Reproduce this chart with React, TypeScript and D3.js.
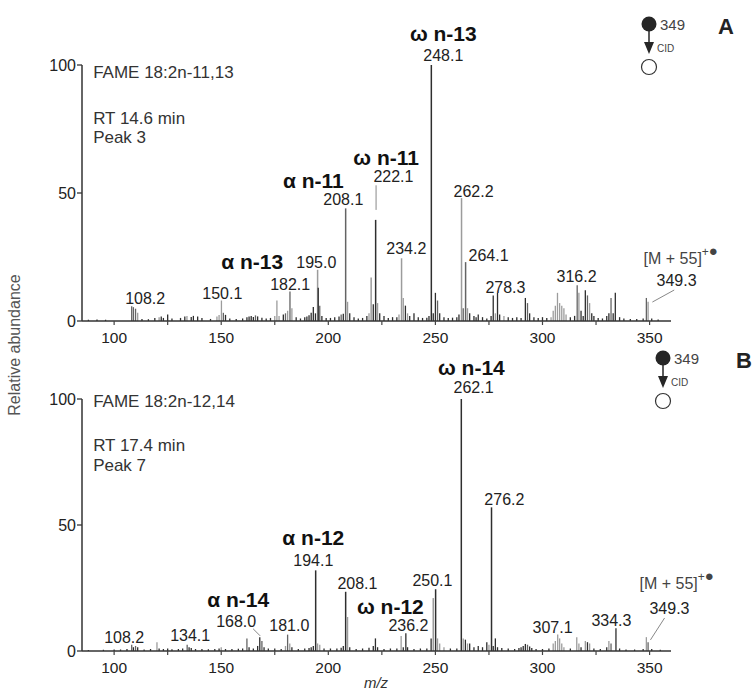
import React from 'react';
import * as d3 from 'd3';

// peaks: [m/z, relative abundance %, shade]  d = dark, m = mid grey, l = light grey
type Peak = [number, number, string];

const peaksA: Peak[] = [
  [88, 0.5, 'd'], [92, 0.6, 'd'], [96, 0.5, 'd'], [108.2, 5.8, 'm'], [109, 5.4, 'm'], [110, 4.8, 'm'], [111, 3.2, 'l'],
  [113, 0.8, 'd'], [116, 0.7, 'd'], [119, 1.2, 'd'], [121, 1.5, 'l'], [122, 1.8, 'd'], [123, 1.2, 'd'], [125, 2.5, 'd'],
  [127, 1, 'd'], [131, 1.2, 'd'], [133, 1.8, 'd'], [134, 2, 'l'], [136, 1.6, 'd'], [137, 2, 'd'], [139, 1.8, 'd'],
  [141, 1.2, 'd'], [145, 0.8, 'd'], [148, 1.8, 'l'], [149, 2.3, 'l'], [150.1, 8, 'l'], [151, 3.2, 'm'], [152, 2.4, 'd'],
  [154, 1, 'd'], [157, 0.8, 'd'], [160, 1, 'd'], [162, 1.5, 'd'], [163, 1.8, 'd'], [164, 2, 'd'], [165, 1.6, 'd'],
  [166, 2.2, 'm'], [167, 1.8, 'd'], [169, 1.3, 'd'], [171, 1, 'd'], [173, 1.2, 'd'], [175, 2, 'l'], [176, 8, 'l'],
  [177, 2, 'l'], [179, 2.5, 'd'], [180, 3, 'm'], [181, 4, 'l'], [182.1, 11.5, 'm'], [183, 5, 'l'], [185, 1.5, 'd'],
  [187, 1, 'd'], [189, 1.5, 'd'], [190, 1.8, 'd'], [191, 2.2, 'd'], [192, 3.2, 'd'], [193, 5.5, 'd'], [194, 3, 'd'],
  [195, 20, 'l'], [195.3, 13, 'd'], [196, 6, 'm'], [197, 2, 'd'], [199, 1.2, 'd'], [201, 1.2, 'd'], [203, 1.5, 'd'],
  [205, 1.8, 'd'], [206, 2.5, 'm'], [207, 2.8, 'd'], [208.1, 44, 'm'], [209, 7.5, 'l'], [210, 3, 'd'], [212, 1.5, 'd'],
  [214, 1, 'd'], [216, 1.2, 'd'], [218, 2, 'd'], [219, 3, 'l'], [220, 17, 'l'], [221, 6.5, 'd'], [222.1, 39.5, 'd'],
  [223, 7, 'l'], [224, 3, 'd'], [226, 2, 'd'], [228, 1.2, 'd'], [230, 1.5, 'd'], [232, 1.5, 'd'], [233, 2.5, 'l'],
  [234.2, 24.5, 'l'], [235, 9, 'l'], [236, 6, 'd'], [237, 3, 'l'], [238, 2, 'd'], [240, 3, 'd'], [242, 1.5, 'd'],
  [244, 1.2, 'd'], [246, 1.3, 'd'], [247, 2, 'd'], [248.1, 100, 'd'], [249, 3, 'd'], [250, 11, 'd'], [251, 8, 'm'],
  [252, 3, 'd'], [254, 1.5, 'd'], [256, 1.2, 'd'], [258, 1.3, 'd'], [260, 1.5, 'd'], [261, 2.5, 'd'], [262.2, 48, 'l'],
  [263, 5, 'm'], [264.1, 23, 'm'], [265, 5, 'l'], [266, 3, 'd'], [268, 2, 'd'], [269, 1.5, 'd'], [270, 2.5, 'd'],
  [272, 1.5, 'd'], [274, 1, 'd'], [276, 2, 'd'], [277, 10, 'd'], [278, 3, 'l'], [279, 11, 'd'], [280, 2.5, 'd'],
  [282, 2, 'l'], [284, 1.5, 'd'], [286, 1.2, 'd'], [288, 1.5, 'd'], [290, 1.2, 'd'], [292, 9, 'd'], [293, 7, 'm'],
  [294, 3, 'd'], [296, 1.5, 'd'], [298, 1.2, 'd'], [300, 1.5, 'd'], [302, 1.2, 'd'], [304, 1.5, 'l'], [305, 4, 'l'],
  [306, 6, 'l'], [307, 11, 'l'], [308, 7, 'l'], [309, 6, 'l'], [310, 5, 'l'], [311, 2.5, 'l'], [313, 1.5, 'd'],
  [315, 2, 'd'], [316.2, 14, 'm'], [317, 11, 'l'], [318, 4, 'd'], [319, 2, 'd'], [320, 12, 'd'], [321, 10, 'm'],
  [322, 7, 'l'], [323, 3, 'd'], [324, 2, 'd'], [326, 1.2, 'd'], [328, 1, 'd'], [330, 2, 'd'], [331, 3, 'd'],
  [332, 9, 'm'], [333, 3, 'd'], [334, 11, 'd'], [336, 1.5, 'd'], [338, 1, 'd'], [341, 0.8, 'd'], [344, 0.8, 'd'],
  [347, 1, 'd'], [348.5, 9, 'm'], [349.3, 7.5, 'l'], [351, 1, 'd'], [354, 0.6, 'd'],
];

const peaksB: Peak[] = [
  [88, 0.4, 'd'], [95, 0.5, 'd'], [100, 0.6, 'd'], [103, 0.6, 'd'], [106, 0.8, 'd'], [108.2, 2.5, 'm'], [109, 1.5, 'd'],
  [110, 2, 'm'], [111, 1.5, 'd'], [114, 0.6, 'd'], [117, 0.8, 'd'], [120, 3.5, 'l'], [121, 1, 'd'], [123, 0.8, 'd'],
  [125, 1, 'd'], [127, 0.7, 'd'], [130, 0.8, 'd'], [132, 1, 'd'], [134.1, 2.5, 'm'], [135, 1.5, 'd'], [136, 1.2, 'd'],
  [138, 0.8, 'd'], [141, 0.8, 'd'], [144, 0.7, 'd'], [147, 0.8, 'd'], [149, 1, 'd'], [150, 1.5, 'l'], [152, 0.8, 'd'],
  [155, 0.8, 'd'], [158, 0.9, 'd'], [160, 1, 'd'], [162, 5, 'm'], [163, 1.5, 'd'], [165, 1, 'd'], [167, 2, 'd'],
  [168, 5.5, 'd'], [169, 4, 'm'], [170, 1.5, 'd'], [172, 1, 'd'], [175, 1, 'd'], [178, 0.8, 'd'], [180, 2, 'l'],
  [181, 6.5, 'm'], [182, 3, 'l'], [183, 1.5, 'd'], [186, 0.8, 'd'], [189, 1, 'd'], [191, 1.2, 'd'], [192, 1.5, 'd'],
  [193, 2, 'd'], [194.1, 32, 'd'], [195, 3, 'l'], [196, 2.5, 'l'], [198, 1, 'd'], [201, 1, 'd'], [204, 1, 'd'],
  [206, 1.3, 'd'], [207, 2, 'd'], [208.1, 23.5, 'd'], [209, 13.5, 'l'], [210, 1.5, 'd'], [213, 0.8, 'd'], [216, 1, 'd'],
  [219, 1.3, 'd'], [221, 2, 'd'], [222, 5, 'd'], [223, 1.5, 'd'], [226, 0.8, 'd'], [229, 1, 'd'], [232, 1, 'd'],
  [234, 6, 'l'], [235, 1.5, 'd'], [236.2, 7, 'd'], [237, 1.5, 'd'], [240, 0.8, 'd'], [243, 1, 'd'], [246, 1, 'd'],
  [248, 5, 'd'], [249, 21, 'l'], [250.1, 24.5, 'd'], [251, 5, 'l'], [252, 3, 'l'], [254, 1.5, 'l'], [257, 1, 'd'],
  [260, 1, 'd'], [262.1, 100, 'd'], [263, 5, 'l'], [264, 4.5, 'd'], [265, 3, 'l'], [266, 3, 'd'], [268, 1.5, 'd'],
  [270, 2, 'd'], [272, 1.5, 'd'], [274, 3.5, 'd'], [275, 2.5, 'l'], [276.2, 57, 'd'], [277, 2, 'd'], [278, 5, 'd'],
  [279, 1.5, 'd'], [281, 1.2, 'd'], [284, 1, 'd'], [287, 0.8, 'd'], [289, 1.2, 'd'], [290, 1.5, 'd'], [291, 2, 'd'],
  [292, 2.8, 'd'], [293, 2.5, 'm'], [294, 1.8, 'd'], [295, 1.2, 'd'], [297, 0.8, 'd'], [300, 0.8, 'd'], [303, 1, 'd'],
  [305, 3, 'l'], [306, 4, 'l'], [307.1, 6.5, 'l'], [308, 5, 'l'], [309, 3, 'l'], [310, 1.5, 'l'], [313, 1, 'd'],
  [316, 5.5, 'l'], [317, 3, 'l'], [318, 1.5, 'd'], [320, 4, 'l'], [321, 3.5, 'd'], [322, 3, 'l'], [324, 1, 'd'],
  [327, 0.8, 'd'], [330, 1.5, 'd'], [331, 4, 'l'], [332, 3, 'm'], [334.3, 9, 'd'], [336, 1, 'd'], [339, 0.6, 'd'],
  [343, 0.6, 'd'], [347, 0.8, 'd'], [348.5, 5.5, 'l'], [349.3, 3.5, 'm'], [351, 0.8, 'd'], [355, 0.5, 'd'],
];

// peak labels: text, m/z of label centre, abundance level of baseline, bold
type Label = { t: string; mz: number; lv: number; b?: boolean };

const labelsA: Label[] = [
  { t: 'ω n-13', mz: 253.7, lv: 109.4, b: true },
  { t: '248.1', mz: 253.7, lv: 101.4 },
  { t: 'ω n-11', mz: 227, lv: 61, b: true },
  { t: '222.1', mz: 230.4, lv: 54.3 },
  { t: 'α n-11', mz: 193, lv: 52, b: true },
  { t: '208.1', mz: 207, lv: 45.3 },
  { t: '262.2', mz: 267.8, lv: 48.5 },
  { t: '234.2', mz: 236.4, lv: 26.2 },
  { t: '264.1', mz: 274.8, lv: 23.4 },
  { t: '278.3', mz: 282.7, lv: 10.9 },
  { t: '316.2', mz: 315.9, lv: 15.2 },
  { t: '195.0', mz: 194.4, lv: 20.7 },
  { t: 'α n-13', mz: 164.5, lv: 20.3, b: true },
  { t: '182.1', mz: 182.2, lv: 12.1 },
  { t: '150.1', mz: 150.5, lv: 8.6 },
  { t: '108.2', mz: 114.5, lv: 6.6 },
  { t: '349.3', mz: 362.6, lv: 13.7 },
];

const labelsB: Label[] = [
  { t: 'ω n-14', mz: 266.8, lv: 109.5, b: true },
  { t: '262.1', mz: 267.8, lv: 102.4 },
  { t: '276.2', mz: 282.2, lv: 57.9 },
  { t: '250.1', mz: 248.6, lv: 25.8 },
  { t: 'ω n-12', mz: 229, lv: 14.7, b: true },
  { t: '236.2', mz: 237.4, lv: 7.9 },
  { t: '208.1', mz: 213.6, lv: 24.6 },
  { t: 'α n-12', mz: 193, lv: 42, b: true },
  { t: '194.1', mz: 193, lv: 33.7 },
  { t: '181.0', mz: 181.8, lv: 7.9 },
  { t: 'α n-14', mz: 157.9, lv: 17.4, b: true },
  { t: '168.0', mz: 157, lv: 9.6 },
  { t: '134.1', mz: 135.5, lv: 4 },
  { t: '108.2', mz: 104.7, lv: 3.2 },
  { t: '307.1', mz: 304.7, lv: 7.1 },
  { t: '334.3', mz: 332.2, lv: 9.9 },
  { t: '349.3', mz: 359.3, lv: 14.7 },
];

// leader lines: [mz1, lv1, mz2, lv2]
const leadersA = [[222.3, 53, 222.3, 43.4], [361.5, 12.1, 351.3, 7.4]];
const leadersB = [[164.9, 8.8, 168.2, 6], [357, 13.1, 350.4, 4.4]];

const infoA = ['FAME 18:2n-11,13', 'RT 14.6 min', 'Peak 3'];
const infoB = ['FAME 18:2n-12,14', 'RT 17.4 min', 'Peak 7'];

const xDomain = [85, 360];
const xTicks = [100, 125, 150, 175, 200, 225, 250, 275, 300, 325, 350];
const xTickLabels = [100, 150, 200, 250, 300, 350];
const yTicks = [0, 50, 100];

const FONT = "Arial, 'Liberation Sans', Helvetica, sans-serif";
const shade: Record<string, string> = { d: '#2e2e2e', m: '#646464', l: '#9c9c9c' };

const x = d3.scaleLinear().domain(xDomain).range([82, 671]);

type PanelProps = {
  peaks: Peak[];
  labels: Label[];
  leaders: number[][];
  info: string[];
  ionLv: number;
  ionMz: number;
  y0: number;
  y100: number;
  letter: string;
  letterX: number;
  iconX: number;
  infoLv: number[];
};

const Panel = ({ peaks, labels, leaders, info, ionLv, ionMz, y0, y100, letter, letterX, iconX, infoLv }: PanelProps) => {
  const y = d3.scaleLinear().domain([0, 100]).range([y0, y100]);
  const iconY = y100 - 41;
  return (
    <g fontFamily={FONT}>
      {/* peaks */}
      {peaks.map((p, i) => (
        <line key={i} x1={x(p[0])} x2={x(p[0])} y1={y(0)} y2={y(p[1])} stroke={shade[p[2]]} strokeWidth={p[1] > 15 ? 1.5 : 1.3} />
      ))}

      {/* y axis */}
      <line x1={x(xDomain[0])} x2={x(xDomain[0])} y1={y(0)} y2={y(100)} stroke="#333" strokeWidth={1.5} />
      {yTicks.map(t => (
        <g key={t}>
          <line x1={x(xDomain[0]) - 5} x2={x(xDomain[0])} y1={y(t)} y2={y(t)} stroke="#333" strokeWidth={1.3} />
          <text x={x(xDomain[0]) - 6} y={y(t) + 6} textAnchor="end" fontSize={16} fill="#222">{t}</text>
        </g>
      ))}

      {/* x axis */}
      <line x1={x(xDomain[0])} x2={x(xDomain[1])} y1={y(0)} y2={y(0)} stroke="#333" strokeWidth={1.5} />
      {xTicks.map(t => (
        <line key={t} x1={x(t)} x2={x(t)} y1={y(0)} y2={y(0) + 4} stroke="#444" strokeWidth={1.2} />
      ))}
      {xTickLabels.map(t => (
        <text key={t} x={x(t)} y={y(0) + 22} textAnchor="middle" fontSize={15.5} fill="#222">{t}</text>
      ))}

      {/* info text */}
      {info.map((s, i) => (
        <text key={s} x={x(90.2)} y={y(infoLv[i])} fontSize={17} fill="#333">{s}</text>
      ))}

      {/* leaders */}
      {leaders.map((l, i) => (
        <line key={i} x1={x(l[0])} y1={y(l[1])} x2={x(l[2])} y2={y(l[3])} stroke="#888" strokeWidth={1} />
      ))}

      {/* peak labels */}
      {labels.map((l, i) => (
        <text key={i} x={x(l.mz)} y={y(l.lv)} textAnchor="middle" fontSize={l.b ? 21 : 16}
          fontWeight={l.b ? 'bold' : 'normal'} fill={l.b ? '#111' : '#222'}>{l.t}</text>
      ))}

      {/* molecular ion label */}
      <text x={x(ionMz)} y={y(ionLv)} fontSize={16} fill="#444">
        [M + 55]<tspan dy={-8} fontSize={12}>+</tspan><tspan fontSize={15}>●</tspan>
      </text>

      {/* CID icon */}
      <circle cx={iconX} cy={iconY} r={7.5} fill="#262626" />
      <line x1={iconX} x2={iconX} y1={iconY + 7} y2={iconY + 22} stroke="#262626" strokeWidth={1.5} />
      <path d={`M${iconX - 5},${iconY + 18} L${iconX + 5},${iconY + 18} L${iconX},${iconY + 30} Z`} fill="#262626" />
      <circle cx={iconX} cy={iconY + 43} r={7.5} fill="#fff" stroke="#333" strokeWidth={1.2} />
      <text x={iconX + 11} y={iconY + 6} fontSize={15} fill="#444">349</text>
      <text x={iconX + 8} y={iconY + 28} fontSize={10} fill="#444">CID</text>

      <text x={letterX} y={iconY + 10} textAnchor="middle" fontSize={22} fontWeight="bold" fill="#222">{letter}</text>
    </g>
  );
};

export default function App() {
  return (
    <svg width={752} height={690} style={{ position: 'absolute', left: 0, top: 0, background: '#fff' }}>
      <Panel peaks={peaksA} labels={labelsA} leaders={leadersA} info={infoA} ionMz={347.2} ionLv={22.3}
        y0={321} y100={65} letter="A" letterX={726} iconX={649} infoLv={[95, 77, 69.5]} />
      <Panel peaks={peaksB} labels={labelsB} leaders={leadersB} info={infoB} ionMz={345.3} ionLv={24.6}
        y0={651} y100={399} letter="B" letterX={744} iconX={663} infoLv={[96.8, 79.4, 71.4]} />
      <text transform="translate(20,345) rotate(-90)" textAnchor="middle" fontFamily={FONT} fontSize={16} fill="#555">
        Relative abundance
      </text>
      <text x={376} y={688} textAnchor="middle" fontFamily={FONT} fontSize={15} fontStyle="italic" fill="#333">m/z</text>
    </svg>
  );
}
